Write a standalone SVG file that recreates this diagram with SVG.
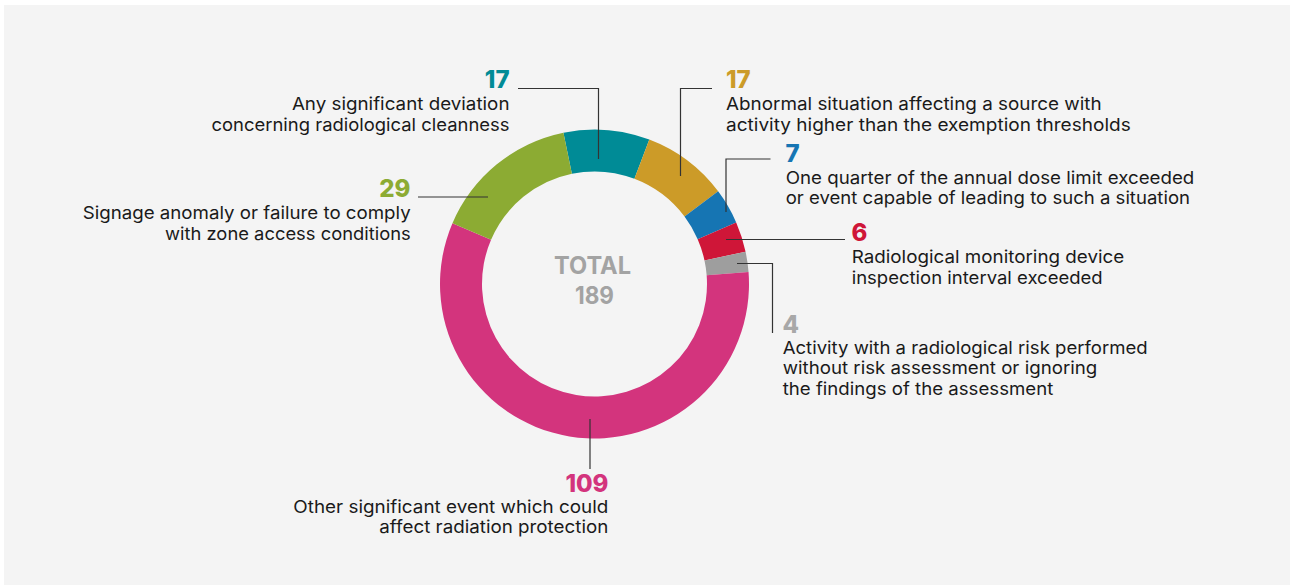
<svg xmlns="http://www.w3.org/2000/svg" width="1290" height="585" viewBox="0 0 1290 585">
<style>
.lbl{font-family:Inter,"DejaVu Sans",sans-serif;font-size:17.5px;fill:#1a1a1a}
.num{font-family:Inter,"DejaVu Sans",sans-serif;font-size:24px;font-weight:800}
.end{text-anchor:end}
.conn{fill:none;stroke:#333;stroke-width:1.2}
.tot{font-family:Inter,"DejaVu Sans",sans-serif;font-size:24px;font-weight:700;fill:#a3a3a3;text-anchor:middle}
</style>
<rect x="0" y="0" width="1290" height="585" fill="#ffffff"/>
<rect x="4" y="5" width="1286" height="580" fill="#f4f4f4"/>
<g id="donut">
<path id="seg-teal" fill="#008b96" d="M563.43,132.65 A154.5,154.5 0 0 1 649.32,139.54 L634.42,178.82 A112.5,112.5 0 0 0 571.88,173.80 Z"/>
<path id="seg-gold" fill="#cc9b28" d="M649.32,139.54 A154.5,154.5 0 0 1 718.15,191.36 L684.53,216.54 A112.5,112.5 0 0 0 634.42,178.82 Z"/>
<path id="seg-blue" fill="#1675b3" d="M718.15,191.36 A154.5,154.5 0 0 1 736.19,222.40 L697.67,239.15 A112.5,112.5 0 0 0 684.53,216.54 Z"/>
<path id="seg-red" fill="#cf1638" d="M736.19,222.40 A154.5,154.5 0 0 1 745.57,251.66 L704.50,260.45 A112.5,112.5 0 0 0 697.67,239.15 Z"/>
<path id="seg-gray" fill="#9e9e9e" d="M745.57,251.66 A154.5,154.5 0 0 1 748.54,271.98 L706.66,275.25 A112.5,112.5 0 0 0 704.50,260.45 Z"/>
<path id="seg-pink" fill="#d3347d" d="M748.54,271.98 A154.5,154.5 0 1 1 452.45,223.24 L491.07,239.75 A112.5,112.5 0 1 0 706.66,275.25 Z"/>
<path id="seg-green" fill="#8cab33" d="M452.45,223.24 A154.5,154.5 0 0 1 563.43,132.65 L571.88,173.80 A112.5,112.5 0 0 0 491.07,239.75 Z"/>
<text class="tot" x="592.5" y="273.5" textLength="77" lengthAdjust="spacingAndGlyphs">TOTAL</text>
<text class="tot" x="594.5" y="303.5" textLength="39" lengthAdjust="spacingAndGlyphs">189</text>
</g>
<g id="connectors">
<polyline class="conn" points="518,88.5 598.5,88.5 598.5,159"/>
<polyline class="conn" points="680.5,176 680.5,88.5 712,88.5"/>
<polyline class="conn" points="726,212 726,159 770.5,159"/>
<polyline class="conn" points="726,239.5 845,239.5"/>
<polyline class="conn" points="737,263.5 772.5,263.5 772.5,333"/>
<polyline class="conn" points="590,419 590,469"/>
<polyline class="conn" points="418,197 488,197"/>
</g>
<g id="label-teal">
<text class="num end" x="509.5" y="88" fill="#008b96">17</text>
<text class="lbl end" x="509.5" y="110" textLength="217.6" lengthAdjust="spacingAndGlyphs">Any significant deviation</text>
<text class="lbl end" x="509.5" y="131" textLength="298" lengthAdjust="spacingAndGlyphs">concerning radiological cleanness</text>
</g>
<g id="label-gold">
<text class="num" x="726" y="88" fill="#cc9b28">17</text>
<text class="lbl" x="726" y="110" textLength="375.7" lengthAdjust="spacingAndGlyphs">Abnormal situation affecting a source with</text>
<text class="lbl" x="726" y="131" textLength="404.7" lengthAdjust="spacingAndGlyphs">activity higher than the exemption thresholds</text>
</g>
<g id="label-blue">
<text class="num" x="785.5" y="162" fill="#1675b3">7</text>
<text class="lbl" x="785.7" y="183.5" textLength="408.6" lengthAdjust="spacingAndGlyphs">One quarter of the annual dose limit exceeded</text>
<text class="lbl" x="785.7" y="204" textLength="404.3" lengthAdjust="spacingAndGlyphs">or event capable of leading to such a situation</text>
</g>
<g id="label-red">
<text class="num" x="851.5" y="241" fill="#cf1638">6</text>
<text class="lbl" x="851.7" y="263" textLength="272.6" lengthAdjust="spacingAndGlyphs">Radiological monitoring device</text>
<text class="lbl" x="851.7" y="284" textLength="251" lengthAdjust="spacingAndGlyphs">inspection interval exceeded</text>
</g>
<g id="label-gray">
<text class="num" x="782.5" y="333" fill="#a8a8a8">4</text>
<text class="lbl" x="782.7" y="353.5" textLength="365" lengthAdjust="spacingAndGlyphs">Activity with a radiological risk performed</text>
<text class="lbl" x="782.7" y="374" textLength="314.6" lengthAdjust="spacingAndGlyphs">without risk assessment or ignoring</text>
<text class="lbl" x="782.7" y="395" textLength="270.6" lengthAdjust="spacingAndGlyphs">the findings of the assessment</text>
</g>
<g id="label-pink">
<text class="num end" x="608.5" y="492" fill="#d3347d">109</text>
<text class="lbl end" x="608.3" y="513" textLength="315" lengthAdjust="spacingAndGlyphs">Other significant event which could</text>
<text class="lbl end" x="608.3" y="533" textLength="229" lengthAdjust="spacingAndGlyphs">affect radiation protection</text>
</g>
<g id="label-green">
<text class="num end" x="410.5" y="197" fill="#8cab33">29</text>
<text class="lbl end" x="410.7" y="219" textLength="328" lengthAdjust="spacingAndGlyphs">Signage anomaly or failure to comply</text>
<text class="lbl end" x="410.7" y="239.5" textLength="245.7" lengthAdjust="spacingAndGlyphs">with zone access conditions</text>
</g>
</svg>
